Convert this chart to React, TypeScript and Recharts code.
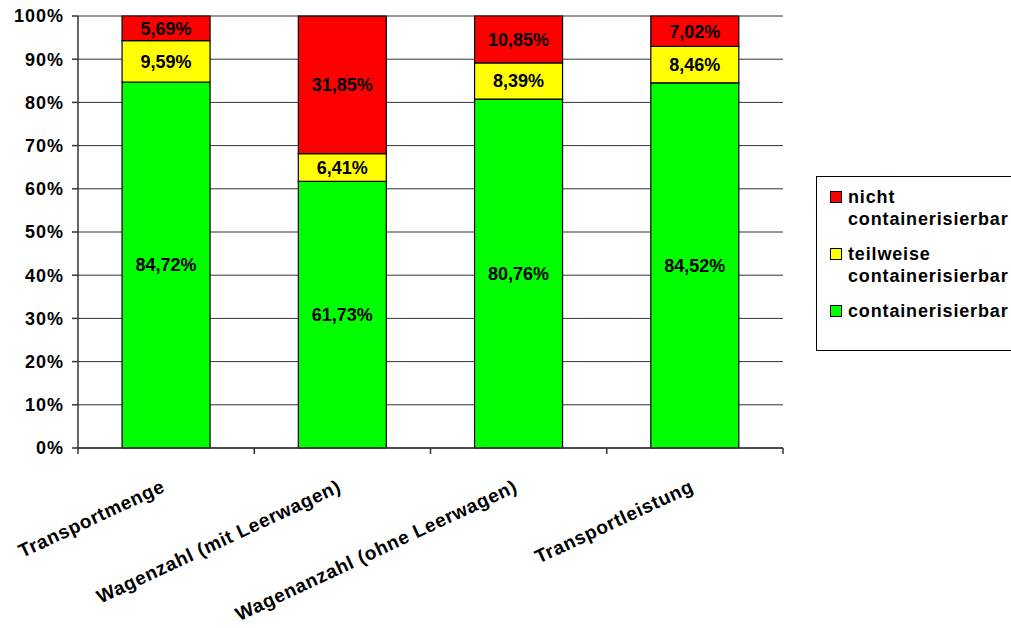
import React from "react";
import { BarChart, Bar, XAxis, YAxis, CartesianGrid, LabelList } from "recharts";

// Anteile je Kennzahl, in Prozent
const categories = [
  "Transportmenge",
  "Wagenzahl (mit Leerwagen)",
  "Wagenanzahl (ohne Leerwagen)",
  "Transportleistung",
];
const containerisierbar = [84.72, 61.73, 80.76, 84.52];
const teilweiseContainerisierbar = [9.59, 6.41, 8.39, 8.46];
const nichtContainerisierbar = [5.69, 31.85, 10.85, 7.02];

const yTicks = [0, 10, 20, 30, 40, 50, 60, 70, 80, 90, 100];

const FONT = "'Liberation Sans', Arial, sans-serif";
const AXIS = "#333333";

const W = 1011;
const H = 628;
const MARGIN = { top: 16, right: 228, bottom: 0, left: 0 };
const Y_AXIS_W = 78;
// width of one category band, used for the boundary tick marks
const BAND = (W - MARGIN.right - MARGIN.left - Y_AXIS_W) / categories.length;

const data = categories.map((name, i) => ({
  name,
  ja: containerisierbar[i],
  teilweise: teilweiseContainerisierbar[i],
  nicht: nichtContainerisierbar[i],
}));

// stacking order bottom -> top
const series = [
  { key: "ja", label: "containerisierbar", color: "#00FF00" },
  { key: "teilweise", label: "teilweise containerisierbar", color: "#FFFF00" },
  { key: "nicht", label: "nicht containerisierbar", color: "#FF0000" },
];

const fmt = (v: any) => `${Number(v).toFixed(2).replace(".", ",")}%`;

function CategoryTick({ x, y, payload, index }: any) {
  const left = x - BAND / 2;
  const right = x + BAND / 2;
  return (
    <g>
      <line x1={left} x2={left} y1={y} y2={y + 6} stroke={AXIS} strokeWidth={1.5} />
      {index === categories.length - 1 && (
        <line x1={right} x2={right} y1={y} y2={y + 6} stroke={AXIS} strokeWidth={1.5} />
      )}
      <g transform={`translate(${x},${y + 43}) rotate(-25)`}>
        <text
          textAnchor="end"
          fontSize={19}
          fontWeight="bold"
          fontFamily={FONT}
          fill="#000"
          letterSpacing={0.7}
        >
          {payload.value}
        </text>
      </g>
    </g>
  );
}

function LegendBox() {
  const items = [...series].reverse();
  return (
    <div
      style={{
        position: "absolute",
        left: 816,
        top: 176,
        width: 210,
        height: 175,
        border: "1px solid #000",
        boxSizing: "border-box",
        paddingTop: 9,
        paddingLeft: 13,
        fontFamily: FONT,
        background: "#fff",
      }}
    >
      {items.map((s) => (
        <div
          key={s.key}
          style={{ display: "flex", alignItems: "flex-start", marginBottom: 13 }}
        >
          <div
            style={{
              width: 12,
              height: 12,
              marginTop: 5,
              marginRight: 6,
              flexShrink: 0,
              background: s.color,
              border: "1px solid #000",
              boxSizing: "border-box",
            }}
          />
          <div
            style={{
              width: 170,
              fontSize: 18,
              fontWeight: "bold",
              lineHeight: "22px",
              letterSpacing: 0.85,
              color: "#000",
            }}
          >
            {s.label}
          </div>
        </div>
      ))}
    </div>
  );
}

export default function App() {
  return (
    <div
      style={{
        position: "absolute",
        left: 0,
        top: 0,
        width: W,
        height: H,
        overflow: "hidden",
        background: "#fff",
      }}
    >
      <BarChart
        width={W}
        height={H}
        data={data}
        margin={MARGIN}
        barCategoryGap="25%"
      >
        <CartesianGrid vertical={false} stroke={AXIS} strokeWidth={1} />
        <XAxis
          dataKey="name"
          height={180}
          axisLine={{ stroke: AXIS, strokeWidth: 1.5 }}
          tickLine={false}
          tickSize={0}
          tickMargin={0}
          interval={0}
          tick={<CategoryTick />}
        />
        <YAxis
          width={Y_AXIS_W}
          domain={[0, 100]}
          ticks={yTicks}
          interval={0}
          tickFormatter={(v) => `${v}%`}
          tick={{ fontSize: 18, fontWeight: "bold", fill: "#000", fontFamily: FONT, letterSpacing: 1 }}
          axisLine={{ stroke: AXIS, strokeWidth: 1.5 }}
          tickLine={{ stroke: AXIS, strokeWidth: 1.5 }}
          tickSize={6}
          tickMargin={8}
        />
        {/* right edge of the plot frame */}
        <YAxis
          yAxisId="frame"
          orientation="right"
          width={0}
          domain={[0, 100]}
          tick={false}
          tickLine={false}
          axisLine={{ stroke: AXIS, strokeWidth: 1.5 }}
        />
        {series.map((s) => (
          <Bar
            key={s.key}
            dataKey={s.key}
            name={s.label}
            stackId="a"
            fill={s.color}
            stroke="#000"
            strokeWidth={1.2}
            isAnimationActive={false}
          >
            <LabelList
              dataKey={s.key}
              position="center"
              formatter={fmt}
              fill="#000"
              fontSize={18}
              fontWeight="bold"
              fontFamily={FONT}
            />
          </Bar>
        ))}
      </BarChart>
      <LegendBox />
    </div>
  );
}
